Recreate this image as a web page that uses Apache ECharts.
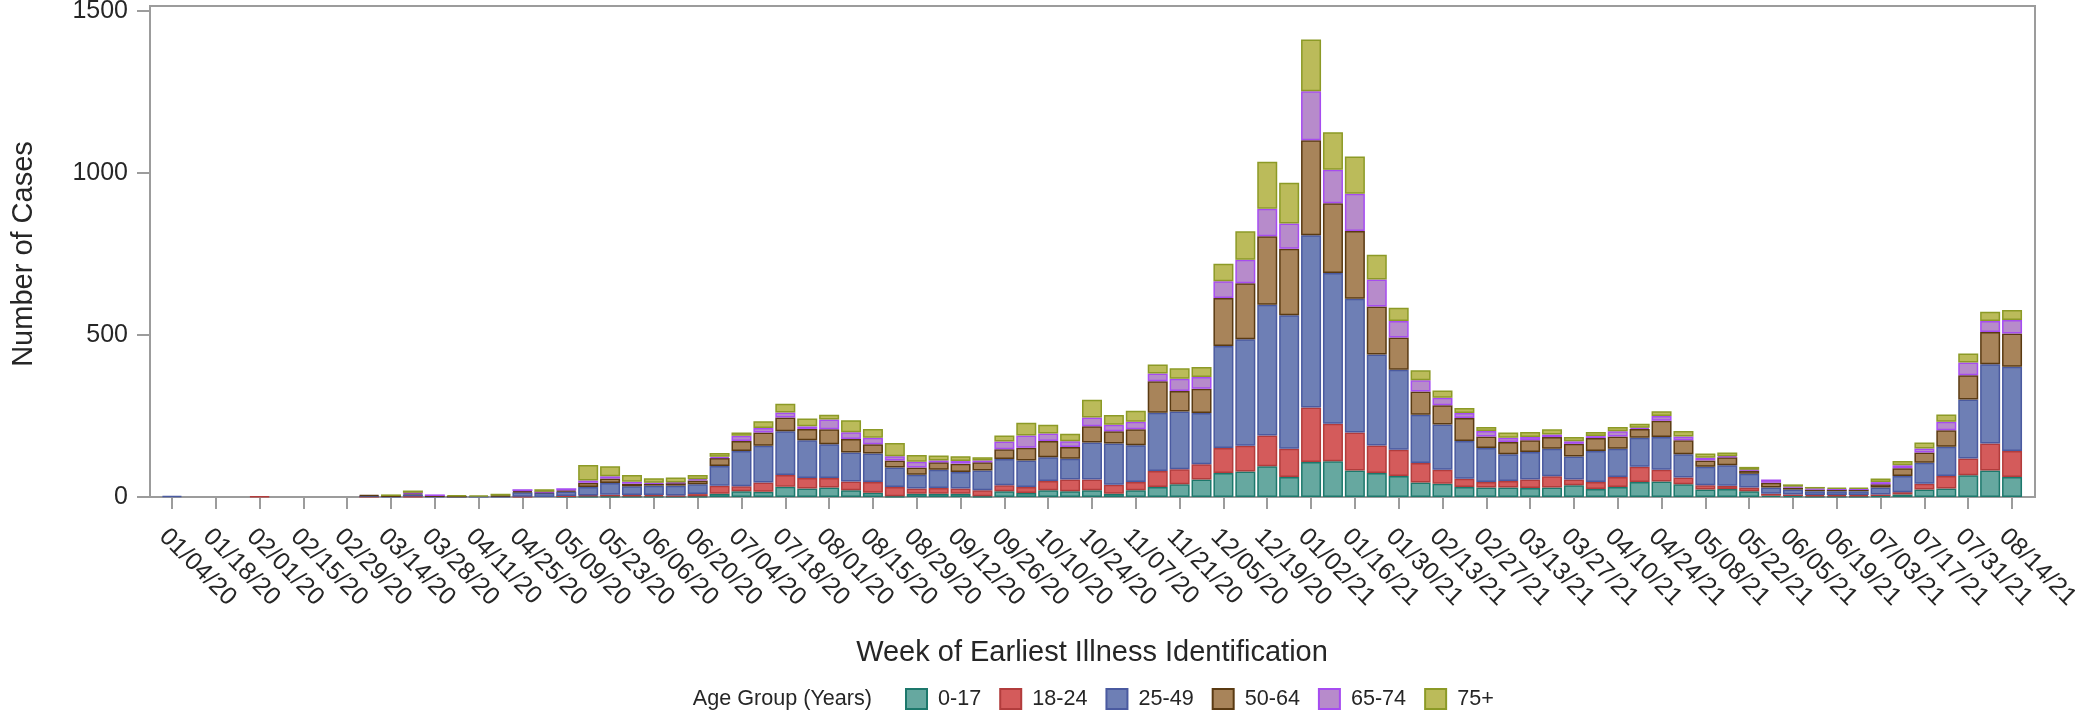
<!DOCTYPE html>
<html>
<head>
<meta charset="utf-8">
<title>Cases by week of illness and age group</title>
<script src="https://cdn.jsdelivr.net/npm/echarts@6/dist/echarts.min.js"></script>
<style>
  html, body { margin: 0; padding: 0; background: #fff; }
  #weekAgeChart { width: 2075px; height: 716px; }
</style>
</head>
<body>
<div id="weekAgeChart"></div>
<script>
// week starting dates (x categories)
const weeks = [
  '01/04/20', '01/11/20', '01/18/20', '01/25/20', '02/01/20', '02/08/20', '02/15/20', '02/22/20', '02/29/20',
  '03/07/20', '03/14/20', '03/21/20', '03/28/20', '04/04/20', '04/11/20', '04/18/20', '04/25/20', '05/02/20',
  '05/09/20', '05/16/20', '05/23/20', '05/30/20', '06/06/20', '06/13/20', '06/20/20', '06/27/20', '07/04/20',
  '07/11/20', '07/18/20', '07/25/20', '08/01/20', '08/08/20', '08/15/20', '08/22/20', '08/29/20', '09/05/20',
  '09/12/20', '09/19/20', '09/26/20', '10/03/20', '10/10/20', '10/17/20', '10/24/20', '10/31/20', '11/07/20',
  '11/14/20', '11/21/20', '11/28/20', '12/05/20', '12/12/20', '12/19/20', '12/26/20', '01/02/21', '01/09/21',
  '01/16/21', '01/23/21', '01/30/21', '02/06/21', '02/13/21', '02/20/21', '02/27/21', '03/06/21', '03/13/21',
  '03/20/21', '03/27/21', '04/03/21', '04/10/21', '04/17/21', '04/24/21', '05/01/21', '05/08/21', '05/15/21',
  '05/22/21', '05/29/21', '06/05/21', '06/12/21', '06/19/21', '06/26/21', '07/03/21', '07/10/21', '07/17/21',
  '07/24/21', '07/31/21', '08/07/21', '08/14/21',
];

const ageGroups = ['0-17', '18-24', '25-49', '50-64', '65-74', '75+'];

// cases per week, one array per age group
const age0to17 = [
  0, 0, 0, 0, 0, 0, 0, 0, 0,
  0, 0, 0, 0, 0, 0, 0, 0, 0, 1,
  2, 2, 2, 2, 1, 2, 10, 18, 16, 32,
  26, 29, 21, 13, 2, 10, 10, 10, 2, 18,
  12, 21, 18, 21, 10, 21, 31, 39, 54, 74,
  79, 95, 62, 108, 110, 82, 74, 65, 45, 41,
  31, 29, 29, 28, 29, 36, 25, 31, 46, 48,
  39, 23, 25, 18, 4, 3, 2, 2, 2, 3,
  8, 23, 26, 67, 82, 62,
];
const age18to24 = [
  0, 0, 0, 0, 2, 0, 0, 0, 0,
  1, 0, 2, 0, 0, 0, 0, 1, 0, 2,
  3, 5, 4, 4, 4, 7, 25, 15, 29, 36,
  33, 30, 27, 33, 29, 16, 18, 16, 19, 18,
  19, 28, 36, 33, 28, 25, 49, 47, 47, 77,
  79, 95, 87, 168, 116, 117, 85, 81, 60, 43,
  25, 17, 20, 26, 35, 18, 21, 31, 47, 36,
  21, 13, 10, 11, 6, 5, 4, 4, 4, 5,
  7, 18, 39, 52, 83, 80,
];
const age25to49 = [
  3, 0, 0, 0, 0, 0, 0, 0, 0,
  2, 2, 6, 2, 1, 1, 2, 14, 13, 14,
  26, 36, 27, 29, 30, 30, 61, 109, 113, 135,
  116, 104, 89, 88, 60, 43, 56, 51, 61, 81,
  82, 74, 64, 114, 127, 114, 180, 178, 158, 315,
  329, 403, 412, 532, 465, 413, 281, 247, 149, 140,
  117, 105, 83, 85, 85, 71, 96, 87, 90, 101,
  72, 57, 63, 43, 19, 15, 12, 12, 12, 21,
  50, 65, 90, 182, 245, 260,
];
const age50to64 = [
  0, 0, 0, 0, 0, 0, 0, 0, 0,
  3, 1, 4, 1, 1, 0, 2, 3, 2, 3,
  13, 14, 8, 6, 8, 12, 24, 31, 41, 42,
  35, 46, 42, 29, 22, 22, 23, 26, 25, 30,
  39, 50, 36, 50, 38, 49, 97, 63, 75, 148,
  173, 212, 205, 293, 216, 209, 148, 99, 72, 59,
  71, 36, 38, 36, 36, 39, 40, 38, 27, 50,
  43, 20, 25, 10, 15, 6, 5, 5, 5, 10,
  24, 31, 51, 75, 99, 103,
];
const age65to74 = [
  0, 0, 0, 0, 0, 0, 0, 0, 0,
  0, 0, 1, 5, 0, 0, 0, 6, 1, 7,
  7, 7, 6, 3, 2, 4, 4, 16, 14, 16,
  8, 30, 21, 20, 13, 18, 6, 8, 6, 24,
  38, 23, 18, 27, 20, 23, 24, 38, 36, 52,
  72, 85, 78, 151, 103, 115, 83, 51, 34, 23,
  15, 17, 13, 10, 8, 8, 6, 16, 4, 15,
  12, 8, 3, 2, 10, 3, 3, 2, 2, 7,
  9, 13, 26, 39, 34, 41,
];
const age75plus = [
  0, 0, 0, 0, 0, 0, 0, 0, 0,
  0, 5, 7, 0, 4, 4, 6, 0, 8, 0,
  48, 31, 21, 14, 15, 13, 12, 10, 21, 27,
  24, 15, 37, 27, 41, 21, 15, 15, 10, 19,
  39, 27, 23, 55, 30, 34, 28, 32, 31, 54,
  88, 145, 126, 160, 116, 115, 77, 41, 31, 23,
  16, 12, 16, 16, 16, 13, 13, 13, 12, 15,
  17, 13, 11, 9, 0, 7, 5, 4, 4, 11,
  13, 18, 23, 28, 29, 31,
];

const yTicks = [0, 500, 1000, 1500];

const groupValues = [age0to17, age18to24, age25to49, age50to64, age65to74, age75plus];
const fillColors = ['#66a8a0', '#d45b5b', '#6e7fb5', '#a8845a', '#b78bcb', '#bbbb5a'];
const edgeColors = ['#1d786c', '#b23c3c', '#4a5aa0', '#5a3a12', '#a64cf0', '#8c9a26'];

const fontName = '"Liberation Sans", Arial, sans-serif';
const frameGray = '#9c9c9c';
const textColor = '#262626';

const chart = echarts.init(document.getElementById('weekAgeChart'));

const series = ageGroups.map((name, i) => ({
  name,
  type: 'bar',
  stack: 'cases',
  xAxisIndex: 0,
  yAxisIndex: 0,
  barWidth: 20,
  // empty segments are left out so they do not draw a border line
  data: groupValues[i].map((v) => (v === 0 ? null : v)),
  itemStyle: {
    color: fillColors[i],
    borderColor: edgeColors[i],
    borderWidth: 1.5,
  },
}));

const option = {
  animation: false,
  backgroundColor: '#ffffff',
  textStyle: { fontFamily: fontName },
  grid: [
    {
      // data area
      left: 161,
      right: 52,
      top: 11,
      bottom: 219,
      outerBoundsMode: 'none',
    },
    {
      // outer frame of the plot
      left: 150,
      right: 40,
      top: 6,
      bottom: 219,
      show: true,
      borderColor: frameGray,
      borderWidth: 2,
      backgroundColor: 'transparent',
      outerBoundsMode: 'none',
    },
  ],
  xAxis: [
    {
      type: 'category',
      gridIndex: 0,
      data: weeks,
      boundaryGap: true,
      axisLine: { show: false },
      axisTick: {
        show: true,
        alignWithLabel: true,
        interval: 1,
        length: 12,
        lineStyle: { color: frameGray, width: 2 },
      },
      axisLabel: {
        interval: 1,
        rotate: -45,
        margin: 27,
        align: 'left',
        verticalAlign: 'top',
        fontSize: 25,
        color: textColor,
        fontFamily: fontName,
      },
      name: 'Week of Earliest Illness Identification',
      nameLocation: 'middle',
      nameGap: 141,
      nameMoveOverlap: false,
      nameTextStyle: { fontSize: 29, color: textColor, fontFamily: fontName },
    },
    { type: 'value', gridIndex: 1, show: false },
  ],
  yAxis: [
    {
      type: 'value',
      gridIndex: 0,
      min: yTicks[0],
      max: yTicks[yTicks.length - 1],
      interval: 500,
      offset: 11,
      axisLine: { show: false },
      axisTick: { show: true, length: 13, lineStyle: { color: frameGray, width: 2 } },
      splitLine: { show: false },
      axisLabel: {
        margin: 22,
        fontSize: 25,
        color: textColor,
        fontFamily: fontName,
        formatter: (v) => String(v),
      },
      name: 'Number of Cases',
      nameLocation: 'middle',
      nameGap: 112,
      nameMoveOverlap: false,
      nameTextStyle: { fontSize: 29, color: textColor, fontFamily: fontName },
    },
    { type: 'value', gridIndex: 1, show: false },
  ],
  legend: {
    data: ageGroups,
    left: 905,
    top: 688,
    padding: 0,
    icon: 'rect',
    itemWidth: 21,
    itemHeight: 20,
    itemGap: 18,
    textStyle: {
      fontSize: 21.6,
      color: textColor,
      fontFamily: fontName,
      padding: [0, 0, 0, 6],
    },
  },
  graphic: [
    {
      type: 'text',
      right: 2075 - 872,
      top: 688,
      style: {
        text: 'Age Group (Years)',
        font: '21.6px ' + fontName,
        fill: textColor,
      },
    },
  ],
  series,
};

chart.setOption(option);
window.addEventListener('resize', () => {
  chart.resize();
});
</script>
</body>
</html>
